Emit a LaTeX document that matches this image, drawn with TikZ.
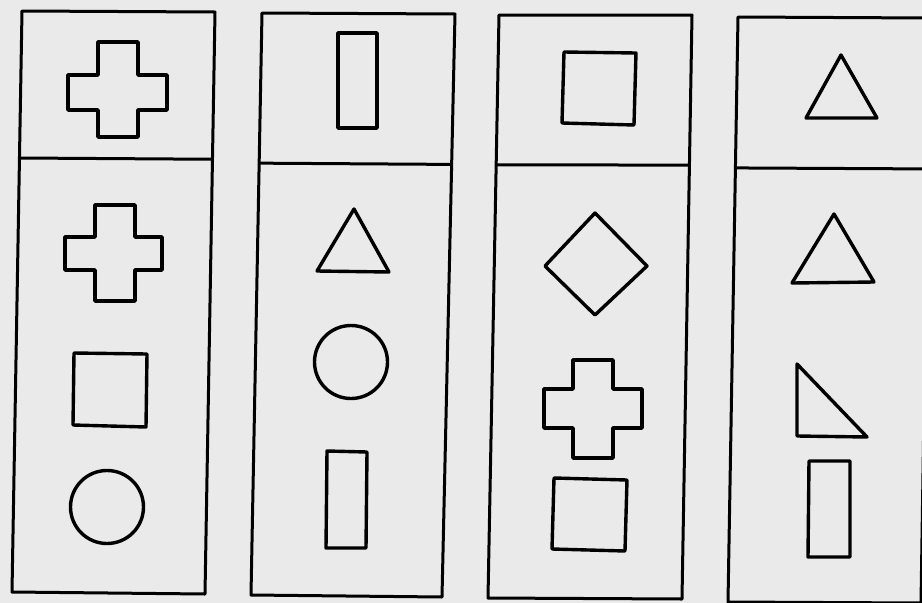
\documentclass[tikz,border=0pt]{standalone}
\usetikzlibrary{calc}
\definecolor{paper}{RGB}{234,234,234}
\tikzset{
  panel/.style={draw=black, line width=3pt, line join=round},
  figshape/.style={draw=black, line width=3.4pt, line join=round},
}
\begin{document}
\begin{tikzpicture}[x=1pt,y=-1pt]
\fill[paper] (0,0) rectangle (922,603);
\useasboundingbox (0,0) rectangle (922,603);

% ---- panels ----
\coordinate (a1) at (22,11);  \coordinate (b1) at (215,12);
\coordinate (c1) at (205,594); \coordinate (d1) at (12,592);
\coordinate (a2) at (262,13); \coordinate (b2) at (455,14);
\coordinate (c2) at (442,597); \coordinate (d2) at (251,595);
\coordinate (a3) at (499,15); \coordinate (b3) at (692,15);
\coordinate (c3) at (682,599); \coordinate (d3) at (488,598);
\coordinate (a4) at (738,17); \coordinate (b4) at (930,18);
\coordinate (c4) at (921,603); \coordinate (d4) at (728,602);

\draw[panel] (a1) -- (b1) -- (c1) -- (d1) -- cycle;
\draw[panel] ($(a1)!0.253!(d1)$) -- ($(b1)!0.253!(c1)$);
\draw[panel] (a2) -- (b2) -- (c2) -- (d2) -- cycle;
\draw[panel] ($(a2)!0.258!(d2)$) -- ($(b2)!0.258!(c2)$);
\draw[panel] (a3) -- (b3) -- (c3) -- (d3) -- cycle;
\draw[panel] ($(a3)!0.257!(d3)$) -- ($(b3)!0.257!(c3)$);
\draw[panel] (a4) -- (b4) -- (c4) -- (d4) -- cycle;
\draw[panel] ($(a4)!0.258!(d4)$) -- ($(b4)!0.258!(c4)$);

% ---- column 1 ----
\draw[figshape] (98,42) -- (138,42) -- (138,75) -- (167,75) -- (167,110) -- (138,110)
  -- (138,137) -- (98,137) -- (98,110) -- (68,110) -- (68,75) -- (98,75) -- cycle;
\draw[figshape] (95,205) -- (135,205) -- (135,237) -- (162,237) -- (162,270) -- (135,270)
  -- (135,301) -- (95,301) -- (95,270) -- (65,270) -- (65,237) -- (95,237) -- cycle;
\draw[figshape] (74,353) -- (147,354) -- (146,427) -- (73,425) -- cycle;
\draw[figshape] (107,507) circle (36.5);

% ---- column 2 ----
\draw[figshape] (338,33) rectangle (377,128);
\draw[figshape] (354,209) -- (389,272) -- (317,271) -- cycle;
\draw[figshape] (351,362) circle (36.5);
\draw[figshape] (327,451) -- (367,452) -- (366,548) -- (326,548) -- cycle;

% ---- column 3 ----
\draw[figshape] (564,52) -- (636,53) -- (634,125) -- (562,123) -- cycle;
\draw[figshape] (595,213) -- (647,266) -- (595,315) -- (545,266) -- cycle;
\draw[figshape] (573,360) -- (613,360) -- (613,389) -- (642,389) -- (642,428) -- (613,428)
  -- (613,458) -- (573,458) -- (573,428) -- (544,428) -- (544,389) -- (573,389) -- cycle;
\draw[figshape] (554,478) -- (627,480) -- (625,551) -- (552,549) -- cycle;

% ---- column 4 ----
\draw[figshape] (841,55) -- (877,118) -- (806,118) -- cycle;
\draw[figshape] (834,214) -- (874,282) -- (792,283) -- cycle;
\draw[figshape] (797,364) -- (867,437) -- (797,436) -- cycle;
\draw[figshape] (809,461) -- (850,461) -- (850,557) -- (808,557) -- cycle;
\end{tikzpicture}
\end{document}
